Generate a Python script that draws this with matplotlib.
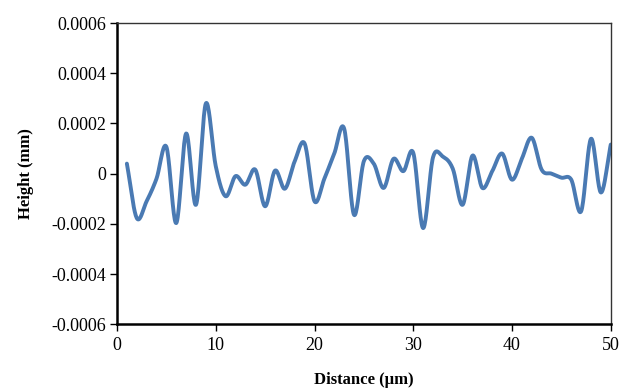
import numpy as np
import matplotlib
matplotlib.use("Agg")
import matplotlib.pyplot as plt

# Surface profile, one reading per micrometre
distance = list(range(1, 51))
height = [
    0.00004, -0.000177, -0.00011, -0.00002, 0.000107,
    -0.000197, 0.00016, -0.000124, 0.00028, 0.00003,
    -0.00009, -0.00001, -0.000044, 0.000016, -0.00013,
    0.000012, -0.00006, 0.00005, 0.00012, -0.00011,
    -0.00002, 0.00008, 0.00018, -0.000164, 0.00005,
    0.00004, -0.000057, 0.000059, 0.00001, 0.000083,
    -0.000217, 0.000065, 0.000068, 0.00002, -0.000124,
    0.000072, -0.000057, 0.00001, 0.00008, -0.000024,
    0.00006, 0.000143, 0.000016, 0.0, -0.000016,
    -0.000024, -0.00015, 0.000139, -0.000075, 0.000116,
]

x_ticks = [0, 10, 20, 30, 40, 50]
y_ticks = [-0.0006, -0.0004, -0.0002, 0, 0.0002, 0.0004, 0.0006]
y_labels = ["-0.0006", "-0.0004", "-0.0002", "0", "0.0002", "0.0004", "0.0006"]


def smooth(x, y, n=20):
    # Catmull-Rom curve through the points, like Excel's smoothed line
    x = np.asarray(x, float)
    y = np.asarray(y, float)
    px = np.concatenate([[2 * x[0] - x[1]], x, [2 * x[-1] - x[-2]]])
    py = np.concatenate([[2 * y[0] - y[1]], y, [2 * y[-1] - y[-2]]])
    t = np.linspace(0, 1, n, endpoint=False)
    xs, ys = [], []
    for i in range(1, len(px) - 2):
        for p, out in ((px, xs), (py, ys)):
            p0, p1, p2, p3 = p[i - 1], p[i], p[i + 1], p[i + 2]
            out.append(0.5 * (2 * p1 + (-p0 + p2) * t
                              + (2 * p0 - 5 * p1 + 4 * p2 - p3) * t ** 2
                              + (-p0 + 3 * p1 - 3 * p2 + p3) * t ** 3))
    xs.append([x[-1]])
    ys.append([y[-1]])
    return np.concatenate(xs), np.concatenate(ys)


plt.rcParams['font.family'] = ['Liberation Serif', 'DejaVu Serif']
plt.rcParams['axes.unicode_minus'] = False

fig = plt.figure(figsize=(6.29, 3.92), dpi=100)
ax = fig.add_axes([0.186, 0.173, 0.785, 0.768])

sx, sy = smooth(distance, height)
ax.plot(sx, sy, color="#4a7ab3", linewidth=2.8, solid_capstyle="round")

ax.set_xlim(0, 50)
ax.set_ylim(-0.0006, 0.0006)
ax.set_xticks(x_ticks)
ax.set_yticks(y_ticks)
ax.set_yticklabels(y_labels)
ax.tick_params(direction="out", length=5, width=1, labelsize=13, colors="black")
ax.tick_params(axis="x", pad=4)
ax.tick_params(axis="y", pad=3)

for side in ("left", "bottom"):
    ax.spines[side].set_linewidth(1.8)
    ax.spines[side].set_color("black")
for side in ("top", "right"):
    ax.spines[side].set_linewidth(1.0)
    ax.spines[side].set_color("#333333")

ax.set_xlabel("Distance (µm)", fontsize=12, fontweight="bold", labelpad=13)
ax.set_ylabel("Height (mm)", fontsize=12, fontweight="bold", labelpad=12)

fig.savefig("out.png", dpi=100)
